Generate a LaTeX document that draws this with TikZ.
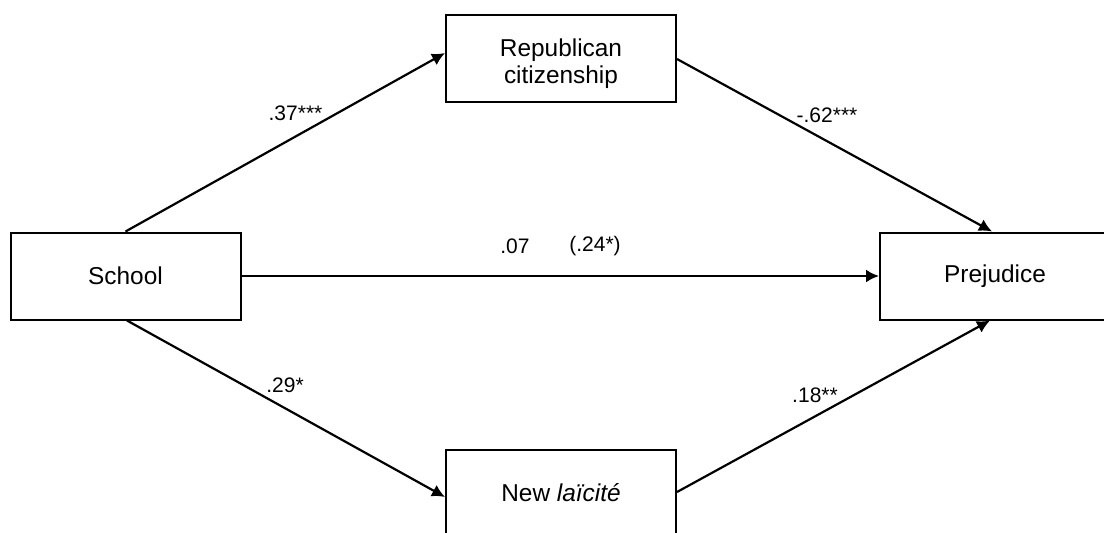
\documentclass[tikz,border=0pt]{standalone}
\usepackage{fontspec}
\setmainfont{Liberation Sans}
\usetikzlibrary{arrows.meta}
\begin{document}
\begin{tikzpicture}[x=0.5pt,y=-0.5pt,
  box/.style={draw, line width=1pt, minimum width=115pt, minimum height=43.5pt, inner sep=0pt, align=center, font=\fontsize{12.2}{13.5}\selectfont},
  lbl/.style={font=\fontsize{10.5}{12}\selectfont, inner sep=0pt},
  arr/.style={line width=1.1pt, -{Latex[length=6.5pt,width=6.5pt]}}]
\useasboundingbox (0,0) rectangle (1104,532);
\node[box] (school) at (125.5,276) {School};
\node[box] (rep) at (561,58.5) {\rule{0pt}{14.5pt}Republican\\citizenship};
\node[box] (prej) at (995,276) {Prejudice};
\node[box] (new) at (561,493) {New \textit{laïcité}};
\draw[arr] (school.north) -- ([yshift=2.75pt]rep.west);
\draw[arr] ([yshift=-0.25pt]rep.east) -- ([xshift=-1.5pt]prej.north);
\draw[arr] (school.east) -- (prej.west);
\draw[arr] ([xshift=0.75pt]school.south) -- ([yshift=-2pt]new.west);
\draw[arr] ([yshift=0.5pt]new.east) -- ([xshift=-2.5pt]prej.south);
\node[lbl] (l1) at (295.5,113) {.37***};
\node[lbl] (l2) at (827,115) {-.62***};
\node[lbl] (l3) at (285,385) {.29*};
\node[lbl] (l4) at (815,395) {.18**};
\node[lbl] (l5) at (515,246) {.07};
\node[lbl] (l6) at (595,246) {(.24*)};
\end{tikzpicture}
\end{document}
